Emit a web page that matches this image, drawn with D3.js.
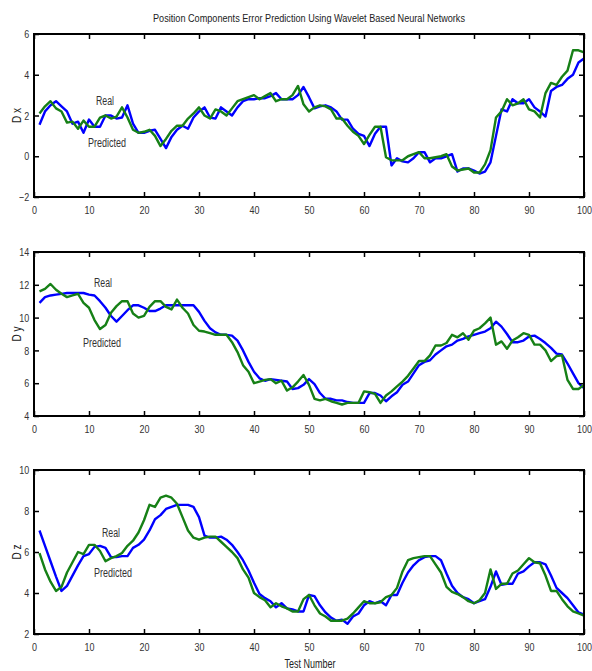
<!DOCTYPE html>
<html>
<head>
<meta charset="utf-8">
<script src="https://cdn.jsdelivr.net/npm/d3@7"></script>
<style>
  html, body { margin: 0; padding: 0; background: #fff; }
  text { font-family: "Liberation Sans Narrow", "Arial Narrow", "Liberation Sans", Arial, sans-serif; }
</style>
</head>
<body>
<svg id="chart" width="592" height="671"></svg>
<script>
// ---- data ----
const testNumber = d3.range(1, 101);
const xTicks = [0, 10, 20, 30, 40, 50, 60, 70, 80, 90, 100];

const dxTicks = [-2, 0, 2, 4, 6];
const dxReal = [1.55,2.2,2.5,2.7,2.45,2.2,1.6,1.7,1.15,1.8,1.45,1.45,2.0,2.0,1.85,1.9,2.5,1.6,1.15,1.15,
  1.25,1.3,0.85,0.4,0.95,1.3,1.5,1.35,1.9,2.2,2.4,1.9,1.85,2.4,2.2,2.0,2.4,2.7,2.8,2.8,
  2.85,2.85,2.95,3.1,2.8,2.8,2.8,3.0,3.4,2.9,2.35,2.45,2.5,2.4,2.2,1.8,1.8,1.35,1.1,1.0,
  0.5,1.1,1.45,1.45,-0.45,-0.1,-0.25,-0.3,-0.1,0.2,0.2,-0.3,-0.1,-0.1,0.0,0.1,-0.75,-0.6,-0.6,-0.7,
  -0.85,-0.75,-0.3,1.0,2.3,2.2,2.8,2.6,2.6,2.8,2.4,2.2,1.95,3.2,3.4,3.5,3.8,4.0,4.6,4.8];
const dxPredicted = [2.1,2.45,2.7,2.35,2.2,1.65,1.7,1.35,1.75,1.45,1.45,1.9,2.0,1.85,1.95,2.4,1.9,1.3,1.15,1.2,
  1.3,1.0,0.5,0.85,1.25,1.5,1.5,1.85,2.1,2.4,2.0,1.85,2.3,2.2,2.0,2.35,2.7,2.8,2.9,3.0,
  2.8,2.95,3.1,2.7,2.8,2.8,3.0,3.45,2.55,2.2,2.4,2.5,2.45,2.3,1.85,1.85,1.5,1.2,1.0,0.6,
  1.05,1.45,1.45,-0.05,-0.2,-0.2,-0.2,0.0,0.1,0.2,-0.1,-0.1,-0.05,0.0,0.1,-0.5,-0.7,-0.65,-0.6,-0.8,
  -0.8,-0.4,0.3,1.9,2.2,2.8,2.5,2.6,2.8,2.3,2.2,1.9,3.1,3.6,3.5,3.9,4.2,5.2,5.2,5.1];

const dyTicks = [4, 6, 8, 10, 12, 14];
const dyReal = [10.9,11.25,11.35,11.4,11.45,11.5,11.5,11.5,11.5,11.4,11.35,11.0,10.6,10.1,9.75,10.1,10.45,10.75,10.75,10.6,
  10.4,10.4,10.55,10.75,10.75,10.75,10.75,10.75,10.75,10.35,9.8,9.35,9.1,8.95,8.95,8.9,8.6,8.0,7.3,6.7,
  6.3,6.15,6.25,6.2,6.15,6.1,5.65,5.7,5.9,6.25,5.95,5.4,5.05,5.05,4.95,4.95,4.85,4.8,4.8,4.8,
  5.4,5.4,5.25,4.9,5.2,5.45,5.9,6.1,6.6,7.1,7.3,7.4,7.75,8.0,8.25,8.35,8.6,8.7,8.85,8.95,
  9.05,9.15,9.35,9.75,9.45,9.0,8.5,8.5,8.6,8.85,8.9,8.7,8.45,8.15,7.8,7.75,7.2,6.6,6.0,5.7];
const dyPredicted = [11.6,11.75,12.05,11.7,11.45,11.25,11.35,11.45,10.9,10.6,9.85,9.3,9.55,10.3,10.7,11.0,11.0,10.25,10.0,10.1,
  10.65,11.0,11.0,10.65,10.5,11.1,10.6,10.25,9.55,9.2,9.15,9.05,8.95,8.95,8.95,8.5,7.9,7.1,6.7,6.0,
  6.1,6.2,6.25,6.0,6.15,5.55,5.75,6.1,6.5,5.9,5.05,4.95,5.05,4.9,4.8,4.7,4.8,4.8,4.8,5.5,
  5.45,5.35,4.8,5.25,5.5,5.8,6.1,6.45,6.9,7.35,7.35,7.7,8.3,8.3,8.45,8.95,8.8,9.05,8.65,9.2,
  9.35,9.65,10.0,8.35,8.55,8.1,8.6,8.8,9.05,8.95,8.35,8.35,8.0,7.35,7.65,7.7,6.2,5.65,5.65,5.9];

const dzTicks = [2, 4, 6, 8, 10];
const dzReal = [7.05,6.3,5.55,4.8,4.1,4.35,4.85,5.35,5.8,5.9,6.25,6.3,6.2,5.75,5.75,5.8,5.8,6.2,6.35,6.6,
  7.05,7.6,7.8,8.1,8.2,8.3,8.3,8.3,8.2,7.7,6.8,6.7,6.7,6.75,6.6,6.35,6.0,5.6,5.1,4.5,
  3.95,3.75,3.6,3.3,3.5,3.25,3.2,3.1,3.1,3.9,3.85,3.4,3.05,2.8,2.65,2.7,2.5,2.85,3.0,3.4,
  3.6,3.5,3.6,3.4,3.9,3.9,4.5,5.0,5.35,5.6,5.75,5.8,5.8,5.6,4.95,4.35,4.0,3.8,3.7,3.5,
  3.6,3.7,4.3,5.05,4.4,4.45,4.45,4.95,5.05,5.3,5.5,5.5,5.4,4.85,4.25,4.0,3.75,3.4,3.05,2.95];
const dzPredicted = [5.95,5.15,4.55,4.1,4.3,5.0,5.5,6.0,5.9,6.35,6.35,6.05,5.55,5.7,5.8,5.95,6.3,6.55,6.95,7.55,
  8.3,8.2,8.65,8.75,8.65,8.35,7.7,7.05,6.7,6.6,6.7,6.75,6.75,6.5,6.25,6.0,5.7,5.15,4.75,4.0,
  3.8,3.65,3.3,3.5,3.35,3.25,3.1,3.1,3.7,3.9,3.4,3.0,2.85,2.65,2.65,2.65,2.75,3.0,3.3,3.6,
  3.5,3.5,3.55,3.8,3.9,4.25,5.05,5.6,5.7,5.75,5.8,5.8,5.4,5.0,4.3,4.05,3.95,3.8,3.6,3.5,
  3.65,4.0,5.15,4.2,4.45,4.45,4.95,5.1,5.4,5.7,5.5,5.45,4.85,4.1,4.1,3.7,3.35,3.1,3.0,2.9];

const panels = [
  { label: "D x", ticks: dxTicks, real: dxReal, pred: dxPredicted, top: 34, bottom: 197,
    realPos: [105, 105], predPos: [107, 147] },
  { label: "D y", ticks: dyTicks, real: dyReal, pred: dyPredicted, top: 252, bottom: 416,
    realPos: [103, 287], predPos: [102, 347] },
  { label: "D z", ticks: dzTicks, real: dzReal, pred: dzPredicted, top: 470, bottom: 634,
    realPos: [111, 537], predPos: [113, 577] }
];

const left = 34, right = 584;
const svg = d3.select("#chart");
const x = d3.scaleLinear().domain([0, 100]).range([left, right]);

svg.append("text").attr("x", 309).attr("y", 22).attr("text-anchor", "middle")
  .attr("font-size", 11).attr("textLength", 312).attr("lengthAdjust", "spacingAndGlyphs")
  .attr("fill", "#222")
  .text("Position Components Error Prediction Using Wavelet Based Neural Networks");

panels.forEach(p => {
  const ext = d3.extent(p.ticks);
  const y = d3.scaleLinear().domain(ext).range([p.bottom, p.top]);
  const g = svg.append("g");

  const line = d3.line().x((d, i) => x(testNumber[i])).y(d => y(d));
  g.append("path").datum(p.real).attr("d", line).attr("fill", "none")
    .attr("stroke", "#0000ff").attr("stroke-width", 2.4).attr("stroke-linejoin", "round");
  g.append("path").datum(p.pred).attr("d", line).attr("fill", "none")
    .attr("stroke", "#168016").attr("stroke-width", 2.4).attr("stroke-linejoin", "round");

  const styleAxis = sel => {
    sel.select(".domain").remove();
    sel.selectAll(".tick line").attr("stroke", "#000").attr("stroke-width", 1.5);
    sel.selectAll(".tick text").attr("font-size", 11.5).attr("fill", "#333")
      .attr("transform", "scale(0.78,1)");
  };

  g.append("g").attr("transform", `translate(0,${p.bottom})`)
    .call(d3.axisBottom(x).tickValues(xTicks).tickSize(-5).tickPadding(9)).call(styleAxis);
  g.append("g").attr("transform", `translate(0,${p.top})`)
    .call(d3.axisTop(x).tickValues(xTicks).tickSize(-5).tickFormat("")).call(styleAxis);
  g.append("g").attr("transform", `translate(${left},0)`)
    .call(d3.axisLeft(y).tickValues(p.ticks).tickSize(-5).tickPadding(6)).call(styleAxis);
  g.append("g").attr("transform", `translate(${right},0)`)
    .call(d3.axisRight(y).tickValues(p.ticks).tickSize(-5).tickFormat("")).call(styleAxis);

  g.append("rect").attr("x", left).attr("y", p.top).attr("width", right - left)
    .attr("height", p.bottom - p.top).attr("fill", "none").attr("stroke", "#000").attr("stroke-width", 2);

  g.append("text").attr("transform", `translate(17,${(p.top + p.bottom) / 2}) rotate(-90)`)
    .attr("text-anchor", "middle").attr("dy", "0.35em").attr("font-size", 12.5)
    .attr("textLength", 15).attr("lengthAdjust", "spacingAndGlyphs").attr("fill", "#222").text(p.label);
  g.append("text").attr("x", p.realPos[0]).attr("y", p.realPos[1]).attr("text-anchor", "middle")
    .attr("font-size", 12).attr("textLength", 18).attr("lengthAdjust", "spacingAndGlyphs")
    .attr("fill", "#333").text("Real");
  g.append("text").attr("x", p.predPos[0]).attr("y", p.predPos[1]).attr("text-anchor", "middle")
    .attr("font-size", 12).attr("textLength", 38).attr("lengthAdjust", "spacingAndGlyphs")
    .attr("fill", "#333").text("Predicted");
});

svg.append("text").attr("x", 310).attr("y", 668).attr("text-anchor", "middle")
  .attr("font-size", 12.5).attr("textLength", 51).attr("lengthAdjust", "spacingAndGlyphs")
  .attr("fill", "#222").text("Test Number");
</script>
</body>
</html>
